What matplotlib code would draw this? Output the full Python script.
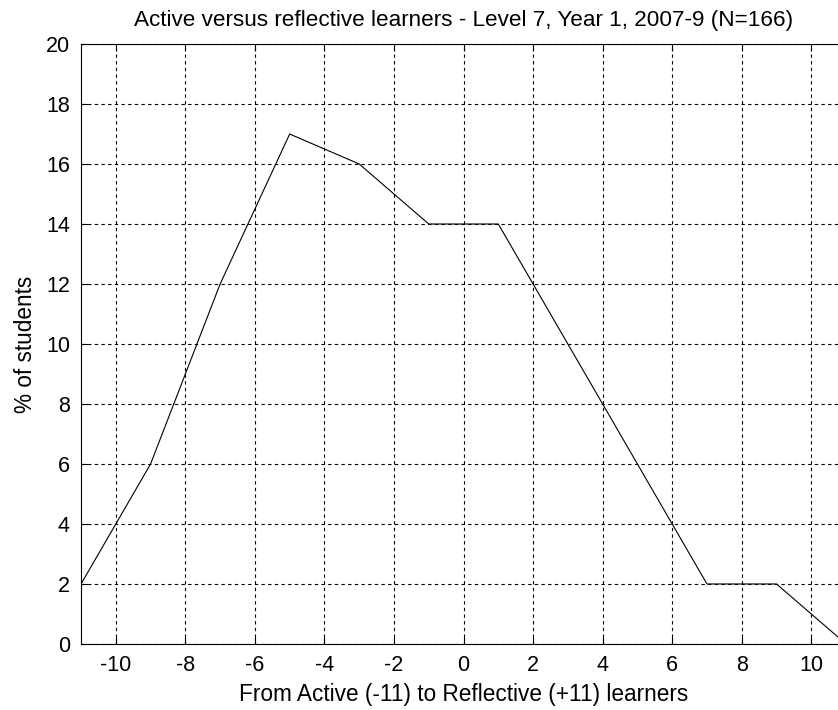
import matplotlib
matplotlib.use("Agg")
import matplotlib.pyplot as plt

# Score on the active/reflective scale and share of students
scores = [-11, -9, -7, -5, -3, -1, 1, 3, 5, 7, 9, 11]
pct_students = [2, 6, 12, 17, 16, 14, 14, 10, 6, 2, 2, 0]

x_ticks = [-10, -8, -6, -4, -2, 0, 2, 4, 6, 8, 10]
y_ticks = [0, 2, 4, 6, 8, 10, 12, 14, 16, 18, 20]

plt.rcParams['font.family'] = ['Liberation Sans', 'DejaVu Sans']
plt.rcParams['axes.unicode_minus'] = False

fig = plt.figure(figsize=(8.38, 7.1), dpi=100)
# axes run past the right edge, the original screenshot is cropped there
ax = fig.add_axes([0.0967, 0.0930, 0.9129, 0.845])

ax.plot(scores, pct_students, color='black', linewidth=0.8)

ax.set_xlim(-11, 11)
ax.set_ylim(0, 20)
ax.set_xticks(x_ticks)
ax.set_yticks(y_ticks)
ax.tick_params(direction='in', length=5, width=0.8, top=True, right=True,
               labelsize=15.5, pad=8)
ax.grid(True, color='black', linestyle=(0, (3, 3)), linewidth=0.8)
for s in ax.spines.values():
    s.set_linewidth(0.8)

ax.set_title('Active versus reflective learners - Level 7, Year 1, 2007-9 (N=166)',
             fontsize=16.2, pad=13)
ax.set_xlabel('From Active (-11) to Reflective (+11) learners', fontsize=16.3, labelpad=5)
ax.set_ylabel('% of students', fontsize=16.3, labelpad=6)

fig.savefig('out.png', dpi=100)
